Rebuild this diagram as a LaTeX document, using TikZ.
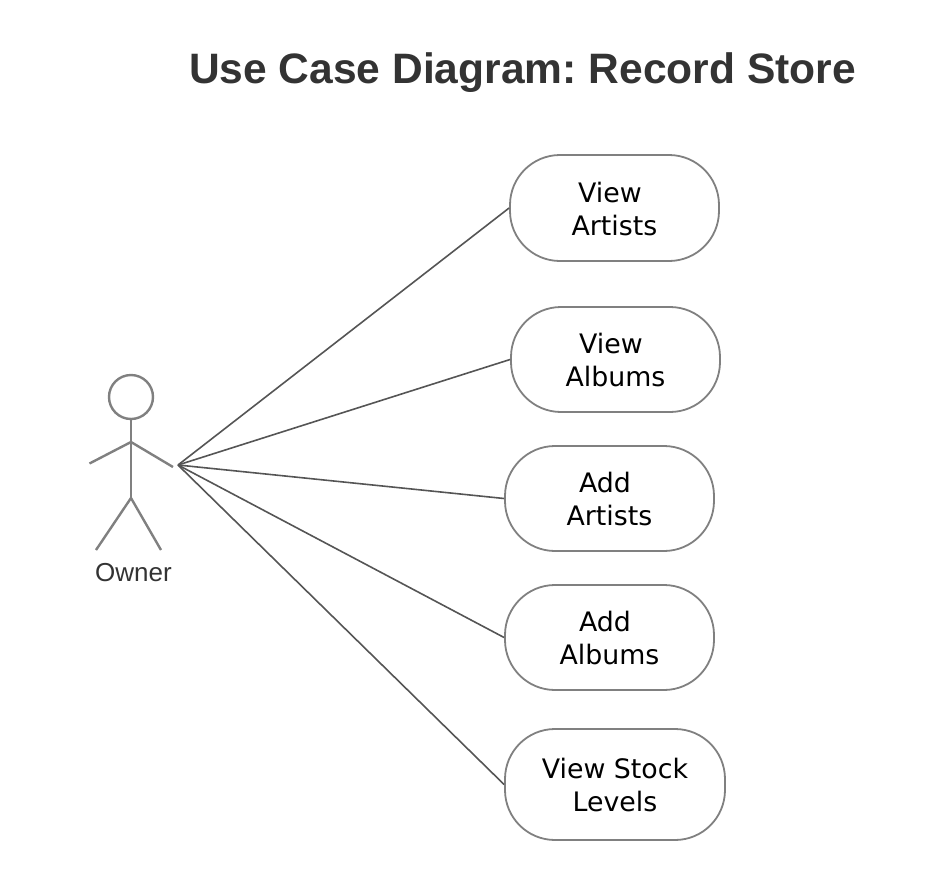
\documentclass[tikz,border=0pt]{standalone}
\usepackage{fontspec}
\setmainfont{Liberation Sans}
\newfontfamily\casefont{DejaVu Sans}
\usepackage{xcolor}
\usetikzlibrary{positioning, arrows.meta}
\definecolor{inkgray}{HTML}{333333}
\definecolor{edgegray}{HTML}{808080}
\definecolor{wiregray}{HTML}{555555}
\newcommand{\tsp}{\rule{9pt}{0pt}}
\frenchspacing

\begin{document}
\begin{tikzpicture}[
    x=1pt, y=-1pt,
    usecase/.style={draw=edgegray, line width=1.8pt, rounded corners=50pt, align=center, inner sep=0pt, text height=54.5pt, font=\casefont\fontsize{26.8pt}{33pt}\selectfont, text=black},
    limb/.style={draw=edgegray, line width=2.4pt},
    wire/.style={draw=wiregray, line width=1.6pt}
]
\useasboundingbox (0,0) rectangle (938,892);

\node[font=\bfseries\fontsize{42.55pt}{50pt}\selectfont, text=inkgray] (title) at (522.5,73) {Use Case Diagram: Record Store};

% actor
\node[circle, limb, minimum size=44pt, inner sep=0pt] (head) at (131,397) {};
\coordinate (neck) at (131,442);
\coordinate (hip) at (131,498);
\coordinate (lefthand) at (89.5,463.5);
\coordinate (righthand) at (173,467);
\coordinate (leftfoot) at (96,550);
\coordinate (rightfoot) at (161,550);
\coordinate (hub) at (178,465);
\draw[limb] (head) -- (neck) -- (hip);
\draw[limb] (lefthand) -- (neck) -- (righthand);
\draw[limb] (leftfoot) -- (hip) -- (rightfoot);
\node[font=\fontsize{26pt}{30pt}\selectfont, text=inkgray] (owner) at (133.5,573) {Owner};

% use cases
\node[usecase, minimum width=209pt, minimum height=106pt] (artists) at (614.5,208) {View\tsp\\Artists};
\node[usecase, minimum width=209pt, minimum height=105pt] (albums) at (615.5,359.5) {View\tsp\\Albums};
\node[usecase, minimum width=209pt, minimum height=105pt] (addartists) at (609.5,498.5) {Add\tsp\\Artists};
\node[usecase, minimum width=209pt, minimum height=105pt] (addalbums) at (609.5,637.5) {Add\tsp\\Albums};
\node[usecase, minimum width=220pt, minimum height=111pt] (stock) at (615,784.5) {View Stock\\Levels};

\draw[wire] (hub) -- (artists.west);
\draw[wire] (hub) -- (albums.west);
\draw[wire] (hub) -- (addartists.west);
\draw[wire] (hub) -- (addalbums.west);
\draw[wire] (hub) -- (stock.west);
\end{tikzpicture}
\end{document}
